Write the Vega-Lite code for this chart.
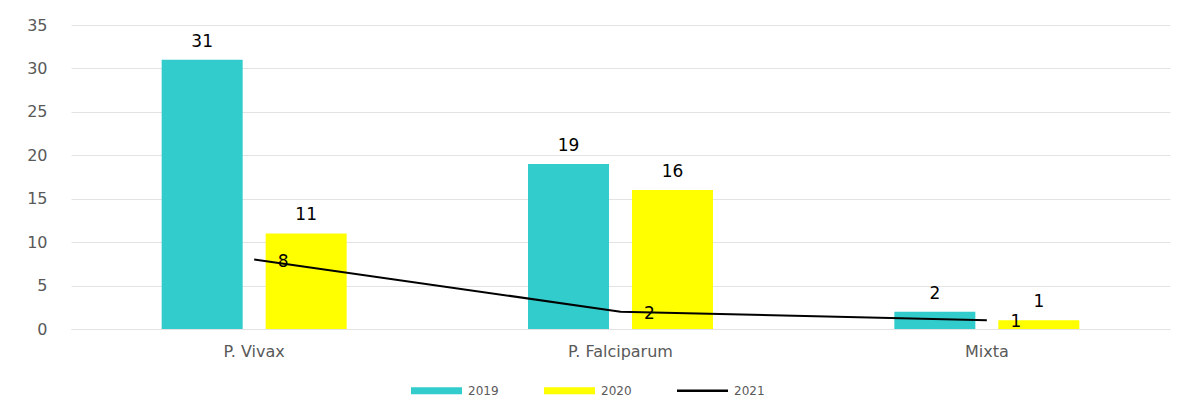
{
  "$schema": "https://vega.github.io/schema/vega-lite/v6.json",
  "width": 1099,
  "height": 304,
  "autosize": "none",
  "padding": {"left": 71, "top": 25, "right": 26, "bottom": 85},
  "background": "white",
  "config": {
    "view": {"stroke": null},
    "font": "DejaVu Sans",
    "axis": {"labelFont": "DejaVu Sans", "labelColor": "#595959", "gridColor": "#E3E3E3", "gridWidth": 1}
  },
  "data": {
    "values": [
      {"species": "P. Vivax", "year": "2019", "value": 31},
      {"species": "P. Vivax", "year": "2020", "value": 11},
      {"species": "P. Vivax", "year": "2021", "value": 8},
      {"species": "P. Falciparum", "year": "2019", "value": 19},
      {"species": "P. Falciparum", "year": "2020", "value": 16},
      {"species": "P. Falciparum", "year": "2021", "value": 2},
      {"species": "Mixta", "year": "2019", "value": 2},
      {"species": "Mixta", "year": "2020", "value": 1},
      {"species": "Mixta", "year": "2021", "value": 1}
    ]
  },
  "encoding": {
    "x": {
      "field": "species",
      "type": "nominal",
      "sort": ["P. Vivax", "P. Falciparum", "Mixta"],
      "scale": {"paddingInner": 0.495, "paddingOuter": 0.2475},
      "axis": {"title": null, "labelAngle": 0, "ticks": false, "domain": true, "domainColor": "#E3E3E3", "labelFontSize": 16, "labelPadding": 14}
    },
    "y": {
      "field": "value",
      "type": "quantitative",
      "scale": {"domain": [0, 35]},
      "axis": {"title": null, "values": [0, 5, 10, 15, 20, 25, 30, 35], "ticks": false, "domain": false, "labelFontSize": 16, "labelPadding": 24}
    }
  },
  "layer": [
    {
      "transform": [{"filter": "datum.year != '2021'"}],
      "mark": {"type": "bar"},
      "encoding": {
        "xOffset": {"field": "year", "type": "nominal", "scale": {"paddingInner": 0.221, "paddingOuter": 0}},
        "color": {
          "field": "year",
          "type": "nominal",
          "scale": {"domain": ["2019", "2020", "2021"], "range": ["#33CCCC", "#FFFF00", "#000000"]},
          "legend": {
            "title": null,
            "orient": "none",
            "legendX": 340,
            "legendY": 340,
            "direction": "horizontal",
            "symbolType": "M-1,-0.137L1,-0.137L1,0.137L-1,0.137Z",
            "symbolSize": 2601,
            "symbolStrokeWidth": 0,
            "labelFontSize": 12,
            "labelColor": "#595959",
            "labelOffset": 6,
            "columnPadding": 45,
            "encode": {
              "symbols": {
                "update": {
                  "shape": {"signal": "datum.value == '2021' ? 'M-1,-0.045L1,-0.045L1,0.045L-1,0.045Z' : 'M-1,-0.137L1,-0.137L1,0.137L-1,0.137Z'"},
                  "fill": {"signal": "scale('color', datum.value)"},
                  "fillOpacity": {"value": 1},
                  "strokeWidth": {"value": 0}
                }
              }
            }
          }
        }
      }
    },
    {
      "transform": [{"filter": "datum.year != '2021'"}],
      "mark": {"type": "text", "baseline": "alphabetic", "dy": -13, "fontSize": 17, "color": "#000000"},
      "encoding": {
        "xOffset": {"field": "year", "type": "nominal", "scale": {"paddingInner": 0.221, "paddingOuter": 0}},
        "text": {"field": "value", "type": "quantitative"}
      }
    },
    {
      "transform": [{"filter": "datum.year == '2021'"}],
      "mark": {"type": "line", "strokeWidth": 2},
      "encoding": {
        "color": {"field": "year", "type": "nominal"}
      }
    },
    {
      "transform": [{"filter": "datum.year == '2021'"}],
      "mark": {"type": "text", "baseline": "middle", "dx": 29, "dy": 2, "fontSize": 17, "color": "#000000"},
      "encoding": {
        "text": {"field": "value", "type": "quantitative"}
      }
    }
  ]
}
